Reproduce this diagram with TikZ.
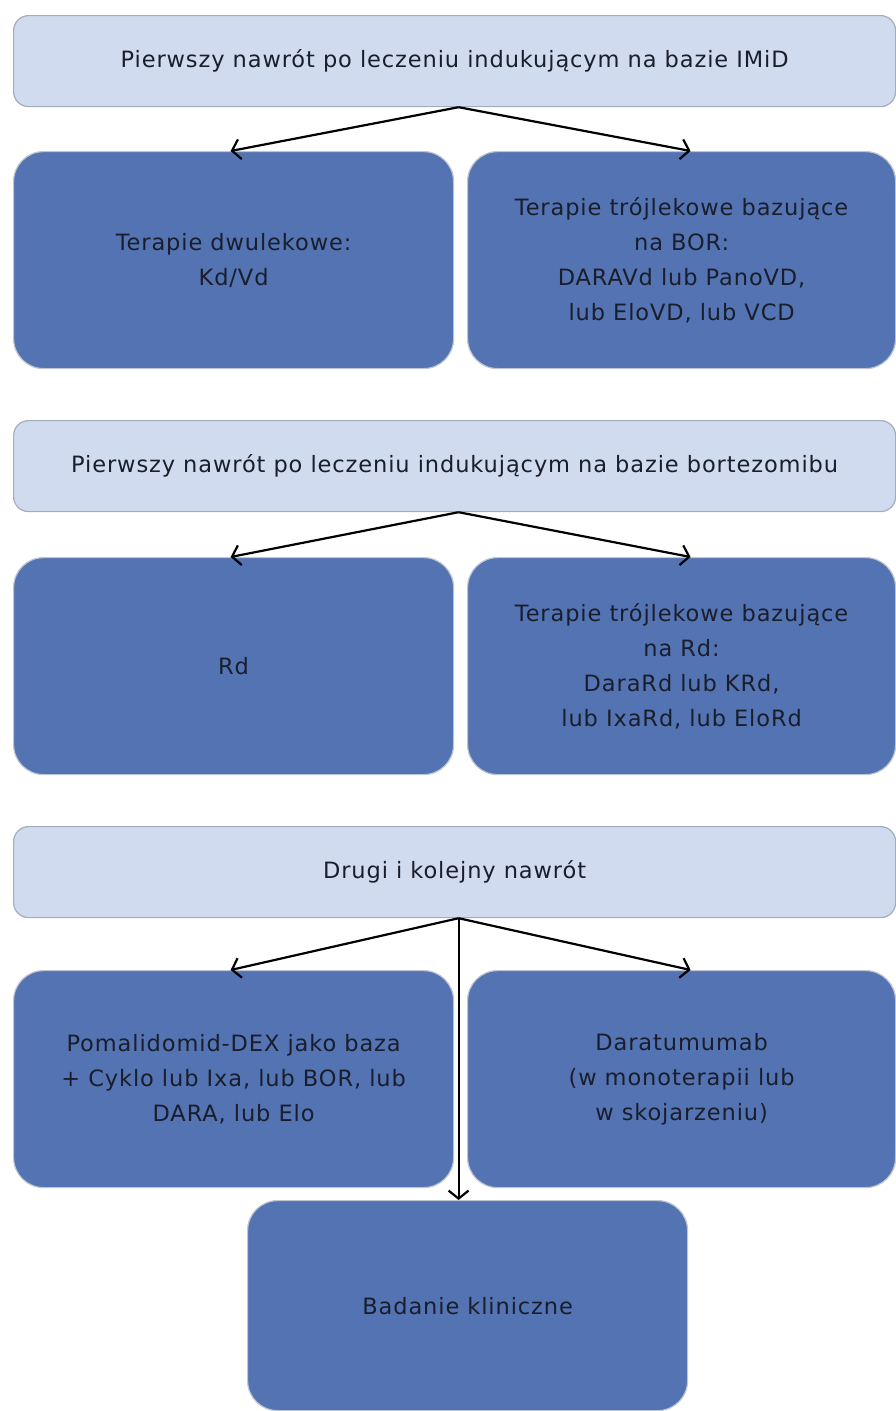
\documentclass[tikz,border=0pt]{standalone}
\usepackage{fontspec}
\setmainfont{DejaVu Sans}[LetterSpace=4]
\usetikzlibrary{arrows.meta}
\definecolor{headfill}{RGB}{208,219,239}
\definecolor{headline}{RGB}{165,172,188}
\definecolor{boxfill}{RGB}{83,115,178}
\definecolor{boxline}{RGB}{190,196,210}
\definecolor{txt}{RGB}{26,30,44}
\begin{document}
\begin{tikzpicture}[x=1pt,y=-1pt,
  font=\fontsize{22.5}{35}\selectfont,
  header/.style={draw=headline, line width=1.2pt, fill=headfill, rounded corners=15pt,
    anchor=north west, minimum width=882pt, minimum height=91pt, inner sep=0pt,
    text=txt},
  choice/.style={draw=boxline, line width=1.2pt, fill=boxfill, rounded corners=30pt,
    anchor=north west, minimum width=#1, minimum height=217pt, inner sep=0pt,
    text=txt, align=center},
  choice/.default=440pt,
  link/.style={draw=black, line width=2.2pt, -{Straight Barb[length=8pt,width=20pt,line width=2.2pt]}}
]
\useasboundingbox (0,0) rectangle (896,1411);

% first relapse after IMiD-based induction
\node[header] (h1) at (13,15) {Pierwszy nawrót po leczeniu indukującym na bazie IMiD};
\node[choice] (a1) at (13,151) {Terapie dwulekowe:\\Kd/Vd};
\node[choice=428pt] (b1) at (467,151) {Terapie trójlekowe bazujące\\na BOR:\\DARAVd lub PanoVD,\\lub EloVD, lub VCD};

% first relapse after bortezomib-based induction
\node[header] (h2) at (13,420) {Pierwszy nawrót po leczeniu indukującym na bazie bortezomibu};
\node[choice] (a2) at (13,557) {Rd};
\node[choice=428pt] (b2) at (467,557) {Terapie trójlekowe bazujące\\na Rd:\\DaraRd lub KRd,\\lub IxaRd, lub EloRd};

% second and later relapse
\node[header] (h3) at (13,826) {Drugi i kolejny nawrót};
\node[choice] (a3) at (13,970) {Pomalidomid-DEX jako baza\\+ Cyklo lub Ixa, lub BOR, lub\\DARA, lub Elo};
\node[choice=428pt] (b3) at (467,970) {Daratumumab\\(w monoterapii lub\\w skojarzeniu)};
\node[choice, minimum height=210pt] (c3) at (247,1200) {Badanie kliniczne};

% connectors
\draw[link] ([xshift=4pt]h1.south) -- ([xshift=-3pt]a1.north);
\draw[link] ([xshift=4pt]h1.south) -- ([xshift=9pt]b1.north);
\draw[link] ([xshift=4pt]h2.south) -- ([xshift=-3pt]a2.north);
\draw[link] ([xshift=4pt]h2.south) -- ([xshift=9pt]b2.north);
\draw[link] ([xshift=4pt]h3.south) -- ([xshift=-3pt]a3.north);
\draw[link] ([xshift=4pt]h3.south) -- ([xshift=9pt]b3.north);
\draw[link] ([xshift=4pt]h3.south) -- ([xshift=4pt]h3.south |- c3.north);
\end{tikzpicture}
\end{document}
